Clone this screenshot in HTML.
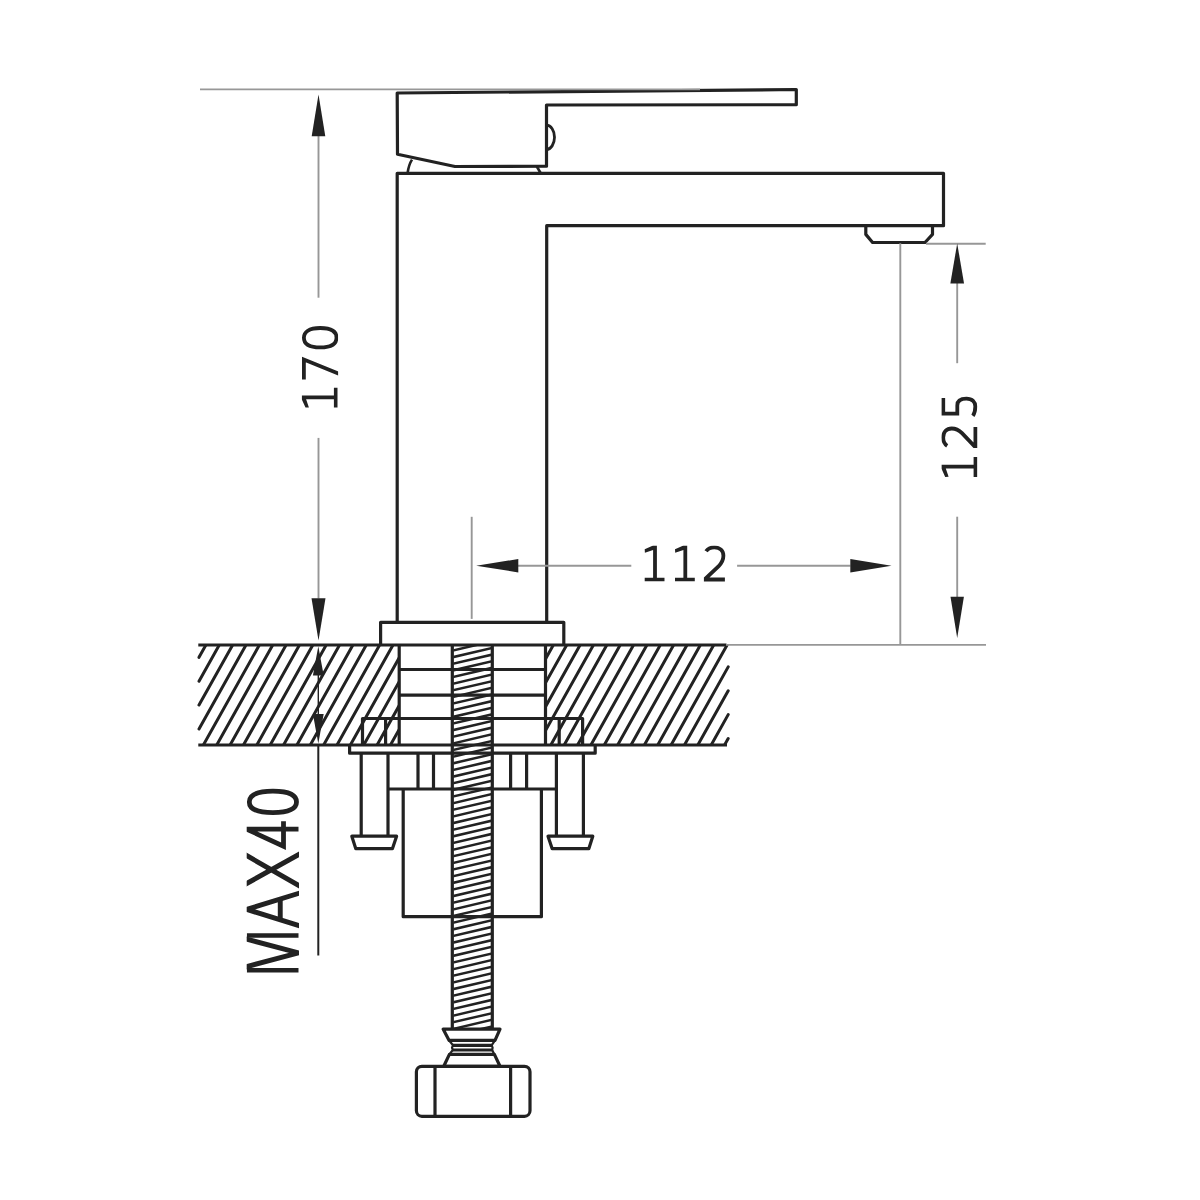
<!DOCTYPE html><html><head><meta charset="utf-8"><title>faucet</title>
<style>html,body{margin:0;padding:0;background:#fff;overflow:hidden}svg{display:block}</style></head><body>
<svg width="1200" height="1200" viewBox="0 0 1200 1200">
<rect width="1200" height="1200" fill="#fff"/>
<defs>
<clipPath id="hatch"><rect x="195" y="645" width="204" height="100"/><rect x="545.5" y="645" width="186" height="100"/></clipPath>
<clipPath id="rod"><rect x="453.4" y="645" width="37.8" height="383.5"/></clipPath>
<clipPath id="capD"><rect x="-5" y="-35.8" width="120" height="36.4"/></clipPath>
<clipPath id="capM"><rect x="-5" y="-51.8" width="200" height="52.3"/></clipPath>
</defs>
<g clip-path="url(#hatch)" stroke="#222222" stroke-width="3.0" stroke-linecap="round">
<line x1="208.7" y1="640" x2="199" y2="657.32"/>
<line x1="222.06" y1="640" x2="199" y2="681.19"/>
<line x1="235.43" y1="640" x2="199" y2="705.05"/>
<line x1="248.79" y1="640" x2="199" y2="728.91"/>
<line x1="262.16" y1="640" x2="200.56" y2="750"/>
<line x1="275.52" y1="640" x2="213.92" y2="750"/>
<line x1="288.88" y1="640" x2="227.28" y2="750"/>
<line x1="302.25" y1="640" x2="240.65" y2="750"/>
<line x1="315.61" y1="640" x2="254.01" y2="750"/>
<line x1="328.98" y1="640" x2="267.38" y2="750"/>
<line x1="342.34" y1="640" x2="280.74" y2="750"/>
<line x1="355.7" y1="640" x2="294.1" y2="750"/>
<line x1="369.07" y1="640" x2="307.47" y2="750"/>
<line x1="382.43" y1="640" x2="320.83" y2="750"/>
<line x1="395.8" y1="640" x2="334.2" y2="750"/>
<line x1="409.16" y1="640" x2="347.56" y2="750"/>
<line x1="422.52" y1="640" x2="360.92" y2="750"/>
<line x1="435.89" y1="640" x2="374.29" y2="750"/>
<line x1="449.25" y1="640" x2="387.65" y2="750"/>
<line x1="462.62" y1="640" x2="401.02" y2="750"/>
<line x1="475.98" y1="640" x2="414.38" y2="750"/>
<line x1="489.34" y1="640" x2="427.74" y2="750"/>
<line x1="502.71" y1="640" x2="441.11" y2="750"/>
<line x1="516.07" y1="640" x2="454.47" y2="750"/>
<line x1="529.44" y1="640" x2="467.84" y2="750"/>
<line x1="542.8" y1="640" x2="481.2" y2="750"/>
<line x1="556.16" y1="640" x2="494.56" y2="750"/>
<line x1="569.53" y1="640" x2="507.93" y2="750"/>
<line x1="582.89" y1="640" x2="521.29" y2="750"/>
<line x1="596.26" y1="640" x2="534.66" y2="750"/>
<line x1="609.62" y1="640" x2="548.02" y2="750"/>
<line x1="622.98" y1="640" x2="561.38" y2="750"/>
<line x1="636.35" y1="640" x2="574.75" y2="750"/>
<line x1="649.71" y1="640" x2="588.11" y2="750"/>
<line x1="663.08" y1="640" x2="601.48" y2="750"/>
<line x1="676.44" y1="640" x2="614.84" y2="750"/>
<line x1="689.8" y1="640" x2="628.2" y2="750"/>
<line x1="703.17" y1="640" x2="641.57" y2="750"/>
<line x1="716.53" y1="640" x2="654.93" y2="750"/>
<line x1="728.2" y1="643.03" x2="668.3" y2="750"/>
<line x1="728.2" y1="666.89" x2="681.66" y2="750"/>
<line x1="728.2" y1="690.76" x2="695.02" y2="750"/>
<line x1="728.2" y1="714.62" x2="708.39" y2="750"/>
<line x1="728.2" y1="738.49" x2="721.75" y2="750"/>
</g>
<g clip-path="url(#rod)" stroke="#222222" stroke-width="2.5">
<line x1="452" y1="630.78" x2="493" y2="621.18"/>
<line x1="452" y1="637.42" x2="493" y2="627.82"/>
<line x1="452" y1="644.06" x2="493" y2="634.46"/>
<line x1="452" y1="650.7" x2="493" y2="641.1"/>
<line x1="452" y1="657.34" x2="493" y2="647.74"/>
<line x1="452" y1="663.98" x2="493" y2="654.38"/>
<line x1="452" y1="670.62" x2="493" y2="661.02"/>
<line x1="452" y1="677.26" x2="493" y2="667.66"/>
<line x1="452" y1="683.9" x2="493" y2="674.3"/>
<line x1="452" y1="690.54" x2="493" y2="680.94"/>
<line x1="452" y1="697.18" x2="493" y2="687.58"/>
<line x1="452" y1="703.82" x2="493" y2="694.22"/>
<line x1="452" y1="710.46" x2="493" y2="700.86"/>
<line x1="452" y1="717.1" x2="493" y2="707.5"/>
<line x1="452" y1="723.74" x2="493" y2="714.14"/>
<line x1="452" y1="730.38" x2="493" y2="720.78"/>
<line x1="452" y1="737.02" x2="493" y2="727.42"/>
<line x1="452" y1="743.66" x2="493" y2="734.06"/>
<line x1="452" y1="750.3" x2="493" y2="740.7"/>
<line x1="452" y1="756.94" x2="493" y2="747.34"/>
<line x1="452" y1="763.58" x2="493" y2="753.98"/>
<line x1="452" y1="770.22" x2="493" y2="760.62"/>
<line x1="452" y1="776.86" x2="493" y2="767.26"/>
<line x1="452" y1="783.5" x2="493" y2="773.9"/>
<line x1="452" y1="790.14" x2="493" y2="780.54"/>
<line x1="452" y1="796.78" x2="493" y2="787.18"/>
<line x1="452" y1="803.42" x2="493" y2="793.82"/>
<line x1="452" y1="810.06" x2="493" y2="800.46"/>
<line x1="452" y1="816.7" x2="493" y2="807.1"/>
<line x1="452" y1="823.34" x2="493" y2="813.74"/>
<line x1="452" y1="829.98" x2="493" y2="820.38"/>
<line x1="452" y1="836.62" x2="493" y2="827.02"/>
<line x1="452" y1="843.26" x2="493" y2="833.66"/>
<line x1="452" y1="849.9" x2="493" y2="840.3"/>
<line x1="452" y1="856.54" x2="493" y2="846.94"/>
<line x1="452" y1="863.18" x2="493" y2="853.58"/>
<line x1="452" y1="869.82" x2="493" y2="860.22"/>
<line x1="452" y1="876.46" x2="493" y2="866.86"/>
<line x1="452" y1="883.1" x2="493" y2="873.5"/>
<line x1="452" y1="889.74" x2="493" y2="880.14"/>
<line x1="452" y1="896.38" x2="493" y2="886.78"/>
<line x1="452" y1="903.02" x2="493" y2="893.42"/>
<line x1="452" y1="909.66" x2="493" y2="900.06"/>
<line x1="452" y1="916.3" x2="493" y2="906.7"/>
<line x1="452" y1="922.94" x2="493" y2="913.34"/>
<line x1="452" y1="929.58" x2="493" y2="919.98"/>
<line x1="452" y1="936.22" x2="493" y2="926.62"/>
<line x1="452" y1="942.86" x2="493" y2="933.26"/>
<line x1="452" y1="949.5" x2="493" y2="939.9"/>
<line x1="452" y1="956.14" x2="493" y2="946.54"/>
<line x1="452" y1="962.78" x2="493" y2="953.18"/>
<line x1="452" y1="969.42" x2="493" y2="959.82"/>
<line x1="452" y1="976.06" x2="493" y2="966.46"/>
<line x1="452" y1="982.7" x2="493" y2="973.1"/>
<line x1="452" y1="989.34" x2="493" y2="979.74"/>
<line x1="452" y1="995.98" x2="493" y2="986.38"/>
<line x1="452" y1="1002.62" x2="493" y2="993.02"/>
<line x1="452" y1="1009.26" x2="493" y2="999.66"/>
<line x1="452" y1="1015.9" x2="493" y2="1006.3"/>
<line x1="452" y1="1022.54" x2="493" y2="1012.94"/>
<line x1="452" y1="1029.18" x2="493" y2="1019.58"/>
<line x1="452" y1="1035.82" x2="493" y2="1026.22"/>
<line x1="452" y1="1042.46" x2="493" y2="1032.86"/>
<line x1="452" y1="1049.1" x2="493" y2="1039.5"/>
<line x1="452" y1="1055.74" x2="493" y2="1046.14"/>
</g>
<line x1="452.3" y1="645" x2="452.3" y2="1028.7" stroke="#222222" stroke-width="3.2" stroke-linecap="butt"/>
<line x1="492.3" y1="645" x2="492.3" y2="1028.7" stroke="#222222" stroke-width="3.2" stroke-linecap="butt"/>
<line x1="198.3" y1="645" x2="726.5" y2="645" stroke="#222222" stroke-width="3.2" stroke-linecap="butt"/>
<line x1="198.3" y1="745" x2="727" y2="745" stroke="#222222" stroke-width="3.2" stroke-linecap="butt"/>
<path d="M397.2,93 L796.3,89.5 L796.3,104.7 L546.5,105 L546.5,166.2 L455,166.5 L397.5,154.2 Z" fill="none" stroke="#222222" stroke-width="3.2" stroke-linejoin="round"/>
<path d="M546.5,125.2 A8.0,12.1 0 0 1 546.5,149.4" fill="none" stroke="#222222" stroke-width="2.8" stroke-linejoin="miter" stroke-linecap="butt"/>
<path d="M407.6,173 Q408.8,164.5 412,159.6" fill="none" stroke="#222222" stroke-width="2.6" stroke-linejoin="miter" stroke-linecap="butt"/>
<path d="M536.8,166.5 L540.6,173" fill="none" stroke="#222222" stroke-width="2.6" stroke-linejoin="miter" stroke-linecap="butt"/>
<path d="M397.2,622.3 L397.2,173.3 L943.5,173.3 L943.5,225.7 L546.7,225.7 L546.7,622.3" fill="none" stroke="#222222" stroke-width="3.2" stroke-linejoin="round"/>
<path d="M865.8,225.7 L865.8,234.4 L872.6,242.5 L925,242.5 L932.5,234.4 L932.5,225.7" fill="none" stroke="#222222" stroke-width="3.2" stroke-linejoin="round"/>
<path d="M380.6,645 L380.6,622.3 L563.8,622.3 L563.8,645" fill="none" stroke="#222222" stroke-width="3.2" stroke-linejoin="round"/>
<line x1="399.2" y1="645" x2="399.2" y2="744.7" stroke="#222222" stroke-width="3.2" stroke-linecap="butt"/>
<line x1="545.5" y1="645" x2="545.5" y2="744.7" stroke="#222222" stroke-width="3.2" stroke-linecap="butt"/>
<line x1="399.2" y1="669.5" x2="545.5" y2="669.5" stroke="#222222" stroke-width="3.2" stroke-linecap="butt"/>
<line x1="399.2" y1="695.2" x2="545.5" y2="695.2" stroke="#222222" stroke-width="3.2" stroke-linecap="butt"/>
<path d="M362.5,744.7 L362.5,718.5 L582.6,718.5 L582.6,744.7" fill="none" stroke="#222222" stroke-width="3.2" stroke-linejoin="round"/>
<line x1="385.6" y1="718.5" x2="385.6" y2="744.7" stroke="#222222" stroke-width="3.2" stroke-linecap="butt"/>
<line x1="559.2" y1="718.5" x2="559.2" y2="744.7" stroke="#222222" stroke-width="3.2" stroke-linecap="butt"/>
<path d="M349.6,744.7 L349.6,753.2 L595.2,753.2 L595.2,744.7" fill="none" stroke="#222222" stroke-width="3.2" stroke-linejoin="round"/>
<line x1="361.2" y1="753.2" x2="361.2" y2="836.2" stroke="#222222" stroke-width="3.2" stroke-linecap="butt"/>
<line x1="388" y1="753.2" x2="388" y2="836.2" stroke="#222222" stroke-width="3.2" stroke-linecap="butt"/>
<line x1="556.4" y1="753.2" x2="556.4" y2="836.2" stroke="#222222" stroke-width="3.2" stroke-linecap="butt"/>
<line x1="583.4" y1="753.2" x2="583.4" y2="836.2" stroke="#222222" stroke-width="3.2" stroke-linecap="butt"/>
<path d="M351.8,836.2 L396.6,836.2 L392.4,848.7 L355.8,848.7 Z" fill="none" stroke="#222222" stroke-width="3.2" stroke-linejoin="round"/>
<path d="M548,836.2 L592.8,836.2 L588.8,848.7 L552.2,848.7 Z" fill="none" stroke="#222222" stroke-width="3.2" stroke-linejoin="round"/>
<line x1="388" y1="789" x2="556.4" y2="789" stroke="#222222" stroke-width="3.2" stroke-linecap="butt"/>
<line x1="418" y1="753.2" x2="418" y2="789" stroke="#222222" stroke-width="3.2" stroke-linecap="butt"/>
<line x1="433.5" y1="753.2" x2="433.5" y2="789" stroke="#222222" stroke-width="3.2" stroke-linecap="butt"/>
<line x1="510.6" y1="753.2" x2="510.6" y2="789" stroke="#222222" stroke-width="3.2" stroke-linecap="butt"/>
<line x1="526.6" y1="753.2" x2="526.6" y2="789" stroke="#222222" stroke-width="3.2" stroke-linecap="butt"/>
<path d="M403.2,789 L403.2,916.7 L541.4,916.7 L541.4,789" fill="none" stroke="#222222" stroke-width="3.2" stroke-linejoin="round"/>
<path d="M443.1,1029.1 L500,1029.1 L495,1040.3 L449,1040.3 Z" fill="none" stroke="#222222" stroke-width="3.2" stroke-linejoin="round"/>
<path d="M449,1040.3 L453,1045.3 L452,1047.6 L452.8,1050 L449.4,1054.4" fill="none" stroke="#222222" stroke-width="2.2" stroke-linejoin="round"/>
<path d="M495,1040.3 L491.6,1045.3 L492.6,1047.6 L492.2,1050 L494.4,1054.4" fill="none" stroke="#222222" stroke-width="2.2" stroke-linejoin="round"/>
<line x1="453" y1="1045.3" x2="491.6" y2="1045.3" stroke="#222222" stroke-width="3.2" stroke-linecap="butt"/>
<line x1="452.8" y1="1050" x2="492.2" y2="1050" stroke="#222222" stroke-width="3.2" stroke-linecap="butt"/>
<path d="M449.4,1054.4 L494.4,1054.4 L500,1066.3 L443.75,1066.3 Z" fill="none" stroke="#222222" stroke-width="3.2" stroke-linejoin="round"/>
<rect x="416.4" y="1066.3" width="113.6" height="50" rx="5.5" ry="5.5" fill="none" stroke="#222222" stroke-width="3.2"/>
<line x1="435" y1="1066.3" x2="435" y2="1116.3" stroke="#222222" stroke-width="3.2" stroke-linecap="butt"/>
<line x1="510.6" y1="1066.3" x2="510.6" y2="1116.3" stroke="#222222" stroke-width="3.2" stroke-linecap="butt"/>
<line x1="200" y1="89.4" x2="700" y2="89.4" stroke="#979797" stroke-width="1.9" stroke-linecap="butt"/>
<line x1="318.5" y1="136" x2="318.5" y2="297.7" stroke="#979797" stroke-width="1.9" stroke-linecap="butt"/>
<line x1="318.5" y1="437.9" x2="318.5" y2="598.5" stroke="#979797" stroke-width="1.9" stroke-linecap="butt"/>
<path d="M318.5,94.4 L325.3,136.3 L311.7,136.3 Z" fill="#222222"/>
<path d="M318.5,640.4 L311.5,598.2 L325.5,598.2 Z" fill="#222222"/>
<path d="M318.3,646.2 L323.7,675.5 L312.9,675.5 Z" fill="#222222"/>
<path d="M318.3,743.6 L312.9,713.9 L323.7,713.9 Z" fill="#222222"/>
<line x1="318.3" y1="675" x2="318.3" y2="714" stroke="#222222" stroke-width="1.4" stroke-linecap="butt"/>
<line x1="318.3" y1="744" x2="318.3" y2="955.5" stroke="#222222" stroke-width="2.0" stroke-linecap="butt"/>
<line x1="471.7" y1="516.8" x2="471.7" y2="618.9" stroke="#979797" stroke-width="1.9" stroke-linecap="butt"/>
<line x1="518" y1="565.7" x2="631.3" y2="565.7" stroke="#979797" stroke-width="1.9" stroke-linecap="butt"/>
<line x1="737.1" y1="565.7" x2="850.5" y2="565.7" stroke="#979797" stroke-width="1.9" stroke-linecap="butt"/>
<path d="M476.2,565.7 L518.3,559 L518.3,572.4 Z" fill="#222222"/>
<path d="M891.5,565.7 L850.3,572.4 L850.3,559 Z" fill="#222222"/>
<line x1="900.3" y1="243.2" x2="900.3" y2="645" stroke="#979797" stroke-width="1.9" stroke-linecap="butt"/>
<line x1="926" y1="243.75" x2="985.7" y2="243.75" stroke="#979797" stroke-width="1.9" stroke-linecap="butt"/>
<line x1="726" y1="644.9" x2="986" y2="644.9" stroke="#979797" stroke-width="1.9" stroke-linecap="butt"/>
<line x1="957.2" y1="283" x2="957.2" y2="363.2" stroke="#979797" stroke-width="1.9" stroke-linecap="butt"/>
<line x1="957.2" y1="516.7" x2="957.2" y2="597" stroke="#979797" stroke-width="1.9" stroke-linecap="butt"/>
<path d="M957.2,243.4 L964.05,283.6 L950.35,283.6 Z" fill="#222222"/>
<path d="M957.2,638 L950.5,596.7 L963.9,596.7 Z" fill="#222222"/>
<g transform="translate(644.3,581.3)" clip-path="url(#capD)">
<path transform="translate(0,0)" d="M0.4,-32.0 L8.8,-35.8 L12.6,-35.8 L12.6,-3.6 L20.2,-3.6 L20.2,0 L0.4,0 L0.4,-3.6 L8.8,-3.6 L8.8,-31.4 L0.6,-28.6 Z" fill="#222222"/>
<path transform="translate(30.3,0)" d="M0.4,-32.0 L8.8,-35.8 L12.6,-35.8 L12.6,-3.6 L20.2,-3.6 L20.2,0 L0.4,0 L0.4,-3.6 L8.8,-3.6 L8.8,-31.4 L0.6,-28.6 Z" fill="#222222"/>
<path transform="translate(59.6,0)" d="M2.2,-30.0 C4.0,-32.9 7.0,-34.0 10.5,-34.0 C16.0,-34.0 19.5,-30.5 19.5,-25.5 C19.5,-21.0 17.8,-18.2 14.8,-15.2 L1.9,-2.9 L1.9,-1.8 L21.0,-1.8" fill="none" stroke="#222222" stroke-width="3.8" stroke-linejoin="miter" stroke-miterlimit="10"/>
</g>
<g transform="translate(337.5,408) rotate(-90)" clip-path="url(#capD)">
<path transform="translate(0,0)" d="M0.4,-32.0 L8.8,-35.8 L12.6,-35.8 L12.6,-3.6 L20.2,-3.6 L20.2,0 L0.4,0 L0.4,-3.6 L8.8,-3.6 L8.8,-31.4 L0.6,-28.6 Z" fill="#222222"/>
<path transform="translate(28.6,0)" d="M0,-33.6 L19.9,-33.6 L5.4,2" fill="none" stroke="#222222" stroke-width="3.8" stroke-linejoin="miter" stroke-miterlimit="10"/>
<path transform="translate(58.7,0)" d="M11.6,-33.6 C17.226,-33.6 21.299999999999997,-28.71 21.299999999999997,-17.3 C21.299999999999997,-5.890000000000001 17.226,-1.0 11.6,-1.0 C5.974,-1.0 1.9000000000000004,-5.890000000000001 1.9000000000000004,-17.3 C1.9000000000000004,-28.71 5.974,-33.6 11.6,-33.6 Z" fill="none" stroke="#222222" stroke-width="3.8" stroke-linejoin="miter" stroke-miterlimit="10"/>
</g>
<g transform="translate(977.2,477.3) rotate(-90)" clip-path="url(#capD)">
<path transform="translate(0,0)" d="M0.4,-32.0 L8.8,-35.8 L12.6,-35.8 L12.6,-3.6 L20.2,-3.6 L20.2,0 L0.4,0 L0.4,-3.6 L8.8,-3.6 L8.8,-31.4 L0.6,-28.6 Z" fill="#222222"/>
<path transform="translate(29.3,0)" d="M2.2,-30.0 C4.0,-32.9 7.0,-34.0 10.5,-34.0 C16.0,-34.0 19.5,-30.5 19.5,-25.5 C19.5,-21.0 17.8,-18.2 14.8,-15.2 L1.9,-2.9 L1.9,-1.8 L21.0,-1.8" fill="none" stroke="#222222" stroke-width="3.8" stroke-linejoin="miter" stroke-miterlimit="10"/>
<path transform="translate(60.3,0)" d="M19.1,-33.95 L3.35,-33.95 L3.35,-19.9 L11.6,-19.9 C16.2,-19.9 18.3,-16.2 18.3,-10.8 C18.3,-4.8 15.0,-1.9 10.4,-1.9 C6.5,-1.9 3.2,-2.8 1.2,-4.3" fill="none" stroke="#222222" stroke-width="3.8" stroke-linejoin="miter" stroke-miterlimit="10"/>
</g>
<g transform="translate(298.5,972.7) rotate(-90)" clip-path="url(#capM)" fill="none" stroke="#222222" stroke-linejoin="miter" stroke-miterlimit="10">
<path transform="translate(0,0)" d="M2.35,0 L2.35,-51.7 M37.3,-51.7 L37.3,0" stroke-width="4.5"/>
<path transform="translate(0,0)" d="M5.23,-55 L19.8,0 L34.37,-55" stroke-width="5.0"/>
<path transform="translate(45,0)" d="M1.27,3 L18.25,-51.7 L35.23,3" stroke-width="5.0"/>
<path transform="translate(45,0)" d="M7.5,-18.25 L29.0,-18.25" stroke-width="4.9"/>
<path transform="translate(86.1,0)" d="M1.48,-54.7 L33.57,3 M32.62,-54.7 L-0.47,3" stroke-width="5.0"/>
<path transform="translate(123.1,0)" d="M28.3,-15 L3.4,-15 L20.4,-51.7 L20.4,0" stroke-width="4.8"/>
<path transform="translate(157.7,0)" d="M13.1,-49.2 C19.364,-49.2 23.9,-42.120000000000005 23.9,-25.6 C23.9,-9.080000000000002 19.364,-2.0 13.1,-2.0 C6.835999999999999,-2.0 2.299999999999999,-9.080000000000002 2.299999999999999,-25.6 C2.299999999999999,-42.120000000000005 6.835999999999999,-49.2 13.1,-49.2 Z" stroke-width="4.8"/>
</g>
</svg></body></html>
